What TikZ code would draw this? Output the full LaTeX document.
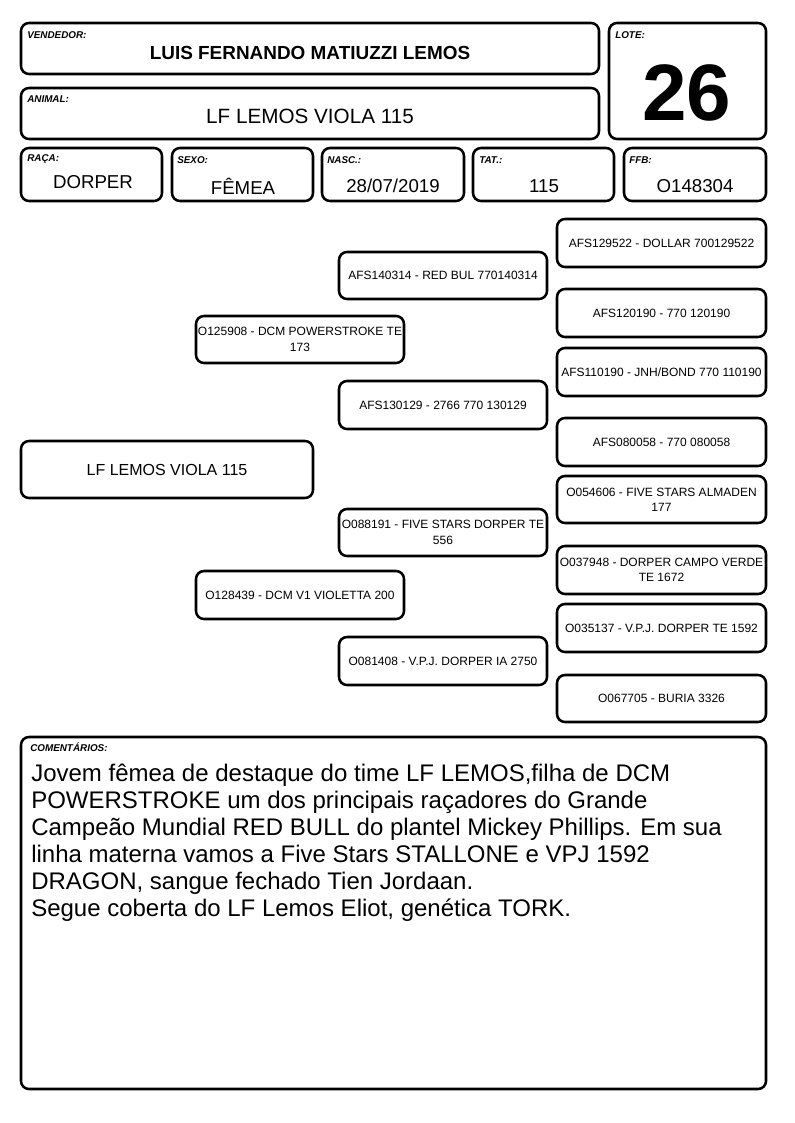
\documentclass[tikz,border=0pt]{standalone}
\usepackage{fontspec}
\setmainfont{Liberation Sans}
\newcommand\Bx[5]{\node[box, minimum width={(#4-#2)*0.75pt}, minimum height={(#5-#3)*0.75pt}] (#1) at ({(#2+#4)/2},{(#3+#5)/2}) {};}
\begin{document}
\begin{tikzpicture}[x=0.75pt,y=-0.75pt,
  box/.style={draw, line width=1.9pt, rounded corners=6pt, inner sep=0pt},
  lab/.style={anchor=north west, inner sep=0pt, font=\bfseries\itshape\fontsize{7.4}{8}\selectfont},
  val/.style={inner sep=0pt, font=\fontsize{14}{16}\selectfont},
  ped/.style={inner sep=0pt, align=center, font=\fontsize{9}{11.5}\selectfont}]
\useasboundingbox[fill=white] (0,0) rectangle (794,1123);
% header
\Bx{vend}{21}{23}{599}{74}
\Bx{lote}{609}{23}{766}{139}
\Bx{anim}{21}{88}{599}{139}
\Bx{raca}{21}{148}{162}{201}
\Bx{sexo}{172}{148}{313}{201}
\Bx{nasc}{322}{148}{464}{201}
\Bx{tat}{473}{148}{614}{201}
\Bx{ffb}{624}{148}{766}{201}
\node[lab] (lvend) at (27,31) {VENDEDOR:};
\node[lab] (llote) at (615,31) {LOTE:};
\node[lab] (lanim) at (27,95) {ANIMAL:};
\node[lab] (lraca) at (27,154) {RAÇA:};
\node[lab] (lsexo) at (177,156) {SEXO:};
\node[lab] (lnasc) at (327,156) {NASC.:};
\node[lab] (ltat) at (479,156) {TAT.:};
\node[lab] (lffb) at (629,156) {FFB:};
\node[inner sep=0pt, font=\bfseries\fontsize{14.2}{16}\selectfont] (tvend) at (310,53) {LUIS FERNANDO MATIUZZI LEMOS};
\node[inner sep=0pt, font=\fontsize{15.5}{17}\selectfont] (tanim) at (310,116) {LF LEMOS VIOLA 115};
\node[inner sep=0pt, font=\bfseries\fontsize{60}{62}\selectfont] (tlote) at (687,93) {26};
\node[val] (traca) at (93,182) {DORPER};
\node[val] (tsexo) at (243,186) {FÊMEA};
\node[val] (tnasc) at (393,186) {28/07/2019};
\node[val] (ttat) at (544,186) {115};
\node[val] (tffb) at (695,186) {O148304};
% pedigree
\Bx{p0}{21}{441}{313}{498}
\node[inner sep=0pt, font=\fontsize{12}{14}\selectfont] (t0) at (p0.center) {LF LEMOS VIOLA 115};
\Bx{p1}{196}{316}{404}{363}
\node[ped] (t1) at (p1.center) {O125908 - DCM POWERSTROKE TE\\173};
\Bx{p2}{196}{571}{404}{619}
\node[ped] (t2) at (p2.center) {O128439 - DCM V1 VIOLETTA 200};
\Bx{p3}{339}{252}{547}{299}
\node[ped] (t3) at (p3.center) {AFS140314 - RED BUL 770140314};
\Bx{p4}{339}{381}{547}{429}
\node[ped] (t4) at (p4.center) {AFS130129 - 2766 770 130129};
\Bx{p5}{339}{509}{547}{556}
\node[ped] (t5) at (p5.center) {O088191 - FIVE STARS DORPER TE\\556};
\Bx{p6}{339}{637}{547}{685}
\node[ped] (t6) at (p6.center) {O081408 - V.P.J. DORPER IA 2750};
\Bx{p7}{557}{219}{766}{267}
\node[ped] (t7) at (p7.center) {AFS129522 - DOLLAR 700129522};
\Bx{p8}{557}{289}{766}{337}
\node[ped] (t8) at (p8.center) {AFS120190 - 770 120190};
\Bx{p9}{557}{348}{766}{396}
\node[ped] (t9) at (p9.center) {AFS110190 - JNH/BOND 770 110190};
\Bx{p10}{557}{418}{766}{466}
\node[ped] (t10) at (p10.center) {AFS080058 - 770 080058};
\Bx{p11}{557}{476}{766}{523}
\node[ped] (t11) at (p11.center) {O054606 - FIVE STARS ALMADEN\\177};
\Bx{p12}{557}{546}{766}{594}
\node[ped] (t12) at (p12.center) {O037948 - DORPER CAMPO VERDE\\TE 1672};
\Bx{p13}{557}{604}{766}{652}
\node[ped] (t13) at (p13.center) {O035137 - V.P.J. DORPER TE 1592};
\Bx{p14}{557}{675}{766}{722}
\node[ped] (t14) at (p14.center) {O067705 - BURIA 3326};
% comments
\Bx{com}{21}{737}{766}{1089}
\node[lab] (lcom) at (30,743) {COMENTÁRIOS:};
\node[anchor=north west, inner sep=0pt, align=left, font=\fontsize{18}{20.25}\selectfont] (tcom) at (31,764)
{Jovem fêmea de destaque do time LF LEMOS,filha de DCM\\
POWERSTROKE um dos principais raçadores do Grande\\
Campeão Mundial RED BULL do plantel Mickey Phillips. Em sua\\
linha materna vamos a Five Stars STALLONE e VPJ 1592\\
DRAGON, sangue fechado Tien Jordaan.\\
Segue coberta do LF Lemos Eliot, genética TORK.};
\end{tikzpicture}
\end{document}
